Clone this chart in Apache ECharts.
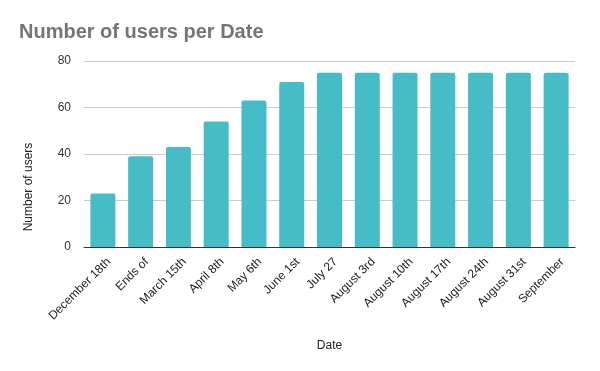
<!DOCTYPE html>
<html><head><meta charset="utf-8">
<script src="https://cdn.jsdelivr.net/npm/echarts@6/dist/echarts.min.js"></script>
<style>html,body{margin:0;padding:0;background:#fff}#c{width:600px;height:371px}</style>
</head><body><div id="c"></div>
<script>
const categories = ["December 18th","Ends of","March 15th","April 8th","May 6th","June 1st","July 27","August 3rd","August 10th","August 17th","August 24th","August 31st","September"];
const users = [23,39,43,54,63,71,75,75,75,75,75,75,75];
const yTicks = [0,20,40,60,80];
const titleText = "Number of users per Date";
const xName = "Date";
const yName = "Number of users";

const chart = echarts.init(document.getElementById('c'), null, {renderer:'canvas'});
chart.setOption({
  animation:false,
  title:{text:titleText,left:14,top:17,textStyle:{fontFamily:'Liberation Sans',fontWeight:'bold',fontSize:20,color:'#757575'}},
  grid:{left:84,right:25,top:61,bottom:124},
  xAxis:{type:'category',data:categories,
    name:xName,nameLocation:'middle',nameGap:93,
    nameTextStyle:{fontFamily:'Liberation Sans',fontSize:12,color:'#222'},
    axisLine:{lineStyle:{color:'#333',width:1}},axisTick:{show:false},
    axisLabel:{rotate:45,interval:0,margin:7,verticalAlign:'top',lineHeight:17,fontFamily:'Liberation Sans',fontSize:12,color:'#222'}},
  yAxis:{type:'value',min:yTicks[0],max:yTicks[yTicks.length-1],interval:20,
    name:yName,nameLocation:'middle',nameGap:49,
    nameTextStyle:{fontFamily:'Liberation Sans',fontSize:12,color:'#222',padding:[0,66,0,0]},
    axisLine:{show:false},axisTick:{show:false},
    axisLabel:{margin:13,fontFamily:'Liberation Sans',fontSize:12,color:'#333'},
    splitLine:{lineStyle:{color:'#ccc',width:1}}},
  series:[{type:'bar',data:users,barWidth:25,itemStyle:{color:'#46BDC6',borderRadius:[2,2,0,0]}}]
});
</script></body></html>
